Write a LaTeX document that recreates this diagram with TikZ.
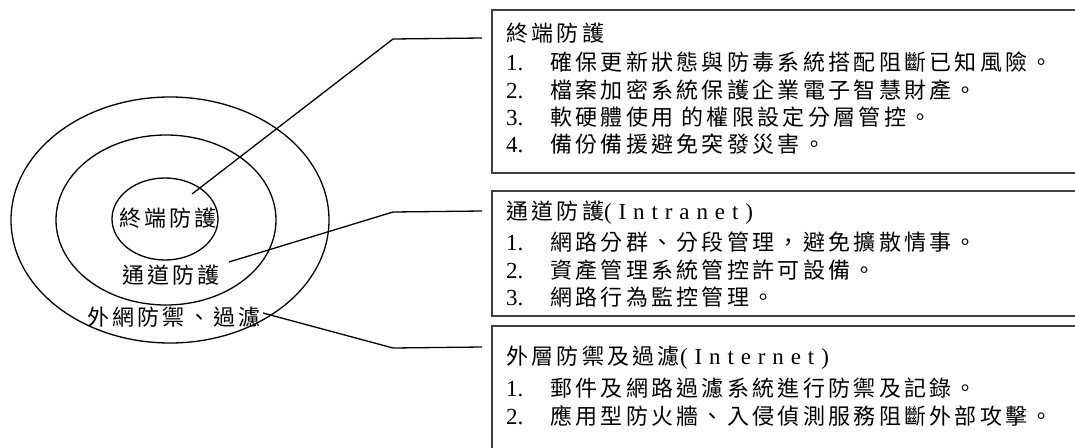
\documentclass[tikz,border=0pt]{standalone}
\usepackage{fontspec}
\setmainfont{Liberation Serif}
\newfontfamily\cjk[LetterSpace=15]{Noto Sans CJK TC}
\newfontfamily\lat[LetterSpace=30]{Liberation Serif}
\tikzset{
  ring/.style={draw=black, line width=1.3pt},
  panel/.style={draw=black!75, line width=1.8pt, anchor=north west, inner sep=0pt},
  txt/.style={inner sep=0pt, anchor=west, font=\fontsize{22}{25}\selectfont},
  ctxt/.style={inner sep=0pt, anchor=center, font=\fontsize{22}{25}\selectfont},
  leader/.style={draw=black, line width=1.3pt},
}
\newcommand{\num}[1]{\makebox[44pt][l]{\fontsize{23}{25}\selectfont #1}}
\newcommand{\latin}[1]{{\fontsize{23}{25}\lat #1}}
\begin{document}
\begin{tikzpicture}[x=1pt,y=-1pt]
\useasboundingbox (0,0) rectangle (1075,447);
\clip (0,0) rectangle (1075,447);
\fill[white] (0,0) rectangle (1075,447);
% rings
\draw[ring] (170,220) ellipse [x radius=159pt, y radius=123pt];
\draw[ring] (166,220) ellipse [x radius=110pt, y radius=85pt];
\draw[ring] (165,219) ellipse [x radius=53pt, y radius=41pt];
\node[ctxt] (l1) at (168,218) {\cjk 終端防護};
\node[ctxt] (l2) at (171,275) {\cjk 通道防護};
\node[ctxt] (l3) at (174,317) {\cjk 外網防禦、過濾};
% panels
\node[panel, minimum width=600pt, minimum height=163pt] (b1) at (490.7,9) {};
\node[panel, minimum width=600pt, minimum height=125pt] (b2) at (490.7,190) {};
\node[panel, minimum width=600pt, minimum height=140pt] (b3) at (490.7,325) {};
% panel 1 text
\node[txt] (t1) at (506,33) {\cjk 終端防護};
\node[txt] (t1a) at (506,62) {\num{1.}\cjk 確保更新狀態與防毒系統搭配阻斷已知風險。};
\node[txt] (t1b) at (506,90) {\num{2.}\cjk 檔案加密系統保護企業電子智慧財產。};
\node[txt] (t1c) at (506,117) {\num{3.}\cjk 軟硬體使用 的權限設定分層管控。};
\node[txt] (t1d) at (506,144) {\num{4.}\cjk 備份備援避免突發災害。};
% panel 2 text
\node[txt] (t2) at (506,213) {{\cjk 通道防護}\latin{(Intranet)}};
\node[txt] (t2a) at (506,242) {\num{1.}\cjk 網路分群、分段管理，避免擴散情事。};
\node[txt] (t2b) at (506,270) {\num{2.}\cjk 資產管理系統管控許可設備。};
\node[txt] (t2c) at (506,297) {\num{3.}\cjk 網路行為監控管理。};
% panel 3 text
\node[txt] (t3) at (506,358) {{\cjk 外層防禦及過濾}\latin{(Internet)}};
\node[txt] (t3a) at (506,388) {\num{1.}\cjk 郵件及網路過濾系統進行防禦及記錄。};
\node[txt] (t3b) at (506,416) {\num{2.}\cjk 應用型防火牆、入侵偵測服務阻斷外部攻擊。};
% leaders
\coordinate (p1) at (192,194); \coordinate (k1) at (393,39); \coordinate (e1) at (482,38);
\coordinate (p2) at (229,262); \coordinate (k2) at (393,212); \coordinate (e2) at (482,211);
\coordinate (p3) at (263,313); \coordinate (k3) at (393,348); \coordinate (e3) at (482,347);
\draw[leader] (p1) -- (k1) -- (e1);
\draw[leader] (p2) -- (k2) -- (e2);
\draw[leader] (p3) -- (k3) -- (e3);
\end{tikzpicture}
\end{document}
